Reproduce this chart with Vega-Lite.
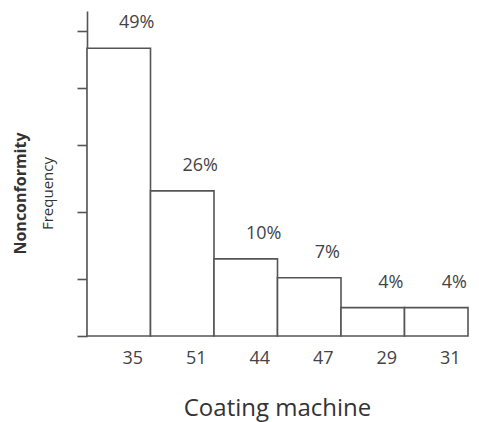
{
  "$schema": "https://vega.github.io/schema/vega-lite/v6.json",
  "width": 392,
  "height": 325,
  "autosize": "none",
  "padding": {"left": 87, "top": 11, "right": 0, "bottom": 86},
  "background": "white",
  "config": {"view": {"stroke": null}, "font": "Open Sans"},
  "title": {
    "text": "Nonconformity",
    "subtitle": "Frequency",
    "orient": "left",
    "anchor": "middle",
    "fontSize": 16,
    "fontWeight": "bold",
    "color": "#333333",
    "subtitleFontSize": 15,
    "subtitleFontWeight": "normal",
    "subtitleColor": "#333333",
    "subtitlePadding": 12,
    "offset": 20,
    "dx": -20
  },
  "data": {
    "values": [
      {"machine": "35", "freq": 94.4, "pct": "49%"},
      {"machine": "51", "freq": 47.6, "pct": "26%"},
      {"machine": "44", "freq": 25.3, "pct": "10%"},
      {"machine": "47", "freq": 19.1, "pct": "7%"},
      {"machine": "29", "freq": 9.3, "pct": "4%"},
      {"machine": "31", "freq": 9.3, "pct": "4%"}
    ]
  },
  "encoding": {
    "x": {
      "field": "machine",
      "type": "nominal",
      "sort": null,
      "scale": {"range": [0, 381], "paddingInner": 0, "paddingOuter": 0},
      "axis": {
        "title": "Coating machine",
        "domain": false,
        "ticks": false,
        "tickSize": 0,
        "labelPadding": 22,
        "labelBaseline": "middle",
        "labelAngle": 0,
        "labelFontSize": 18,
        "labelColor": "#444444",
        "labelOffset": 14,
        "titleFontSize": 24,
        "titleFontWeight": "normal",
        "titleColor": "#333333",
        "titleBaseline": "alphabetic",
        "titleY": 79,
        "titleX": 190
      }
    },
    "y": {
      "field": "freq",
      "type": "quantitative",
      "scale": {"domain": [0, 106.6]},
      "axis": {
        "title": null,
        "labels": false,
        "grid": false,
        "values": [0, 18.7, 40.7, 62.6, 81.3, 100],
        "tickSize": 10,
        "tickColor": "#555555",
        "tickWidth": 1.6,
        "domainColor": "#555555",
        "domainWidth": 1.6
      }
    }
  },
  "layer": [
    {
      "mark": {"type": "bar", "fill": "white", "stroke": "#555555", "strokeWidth": 1.6}
    },
    {
      "mark": {"type": "text", "dx": 18, "dy": -25, "baseline": "middle", "fontSize": 18, "color": "#444444"},
      "encoding": {"text": {"field": "pct"}}
    },
    {
      "data": {"values": [{}]},
      "mark": {"type": "rule", "stroke": "#555555", "strokeWidth": 1.6},
      "encoding": {"x": null, "y": {"datum": 0}}
    }
  ]
}
